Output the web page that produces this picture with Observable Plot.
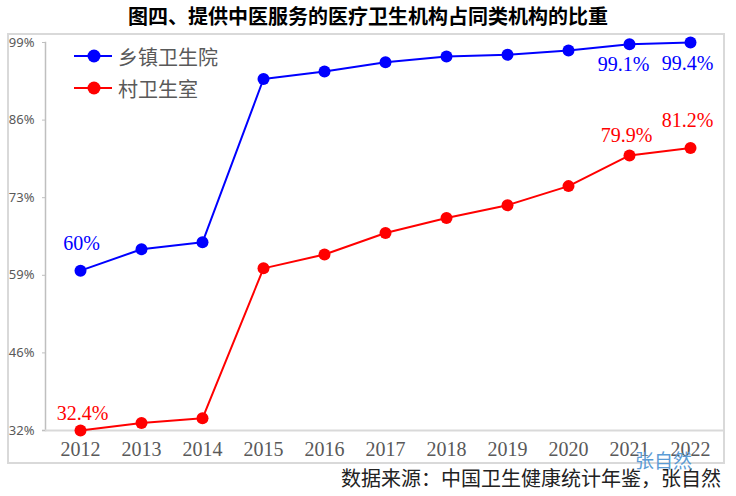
<!DOCTYPE html>
<html>
<head>
<meta charset="utf-8">
<script src="https://cdn.jsdelivr.net/npm/d3@7"></script>
<script src="https://cdn.jsdelivr.net/npm/@observablehq/plot@0.6"></script>
<style>
  html, body { margin: 0; padding: 0; background: #fff; }
  #wrap { position: relative; width: 736px; height: 496px; overflow: hidden; font-family: "Noto Sans CJK SC", "Noto Sans", sans-serif; }
  #title { position: absolute; left: 0; top: 0; width: 736px; height: 32px; line-height: 32px; text-align: center; font-size: 20px; font-weight: bold; color: #000; }
  #frame { position: absolute; left: 7px; top: 33px; width: 718px; height: 431px; border: 2px solid #d9d9d9; box-sizing: border-box; }
  #chart { position: absolute; left: 0; top: 32px; }
  #legend { position: absolute; left: 74px; top: 40px; font-size: 20px; color: #595959; }
  .li { display: flex; align-items: center; height: 32px; }
  .li svg { margin-right: 6px; }
  #caption { position: absolute; right: 15px; top: 465px; font-size: 20px; color: #222; line-height: 26px; }
  #wm { position: absolute; left: 635px; top: 448px; font-size: 19px; color: #5b9bd5; line-height: 24px; }
</style>
</head>
<body>
<div id="wrap">
  <div id="title">图四、提供中医服务的医疗卫生机构占同类机构的比重</div>
  <div id="frame"></div>
  <div id="chart"></div>
  <div id="legend"></div>
  <div id="caption">数据来源：中国卫生健康统计年鉴，张自然</div>
  <div id="wm">张自然</div>
</div>
<script>
const years = [2012, 2013, 2014, 2015, 2016, 2017, 2018, 2019, 2020, 2021, 2022];
const township = [60, 63.7, 64.9, 93.1, 94.4, 96.0, 97.0, 97.3, 98.0, 99.1, 99.4];
const village = [32.4, 33.7, 34.5, 60.4, 62.8, 66.5, 69.1, 71.3, 74.6, 79.9, 81.2];
const seriesNames = ["乡镇卫生院", "村卫生室"];
const seriesColors = ["#0000ff", "#ff0000"];
const yTickValues = [32.4, 45.8, 59.2, 72.6, 86.0, 99.4];
const yTickLabels = ["32%", "46%", "59%", "73%", "86%", "99%"];

const tData = years.map((y, i) => ({year: y, value: township[i]}));
const vData = years.map((y, i) => ({year: y, value: village[i]}));
const fmt = v => (Number.isInteger(v) ? v : v.toFixed(1)) + "%";
const labelFont = "'Liberation Serif', 'DejaVu Serif', serif";

function lab(data, yr, color, dx, dy) {
  return Plot.text(data.filter(d => d.year === yr), {
    x: "year", y: "value", text: d => fmt(d.value),
    fill: color, fontSize: 20, fontFamily: labelFont, dx, dy, lineAnchor: "middle"
  });
}

const plot = Plot.plot({
  width: 736,
  height: 434,
  marginTop: 10,
  marginBottom: 36,
  marginLeft: 45,
  marginRight: 11,
  style: {background: "transparent", overflow: "visible"},
  x: {type: "point", domain: years, padding: 0.5},
  y: {domain: [32.4, 99.4]},
  marks: [
    Plot.frame({anchor: "left", stroke: "#bfbfbf", strokeWidth: 1.5}),
    Plot.ruleY([32.4], {stroke: "#d9d9d9", strokeWidth: 2, insetLeft: -3}),
    Plot.axisY({ticks: yTickValues, tickFormat: (d, i) => yTickLabels[i], tickSize: 3, tickPadding: 8, stroke: "#bfbfbf", fill: "#595959", fontSize: 13, fontFamily: "'Noto Sans', sans-serif", label: null}),
    Plot.axisX({tickSize: 0, tickPadding: 11, fill: "#595959", fontSize: 20, fontFamily: labelFont, tickFormat: d => String(d), label: null}),
    Plot.line(tData, {x: "year", y: "value", stroke: seriesColors[0], strokeWidth: 2}),
    Plot.line(vData, {x: "year", y: "value", stroke: seriesColors[1], strokeWidth: 2}),
    Plot.dot(tData, {x: "year", y: "value", fill: seriesColors[0], r: 6}),
    Plot.dot(vData, {x: "year", y: "value", fill: seriesColors[1], r: 6}),
    lab(tData, 2012, seriesColors[0], 1, -27),
    lab(tData, 2021, seriesColors[0], -6, 20),
    lab(tData, 2022, seriesColors[0], -3, 21),
    lab(vData, 2012, seriesColors[1], 2, -17),
    lab(vData, 2021, seriesColors[1], -3, -20),
    lab(vData, 2022, seriesColors[1], -3, -27)
  ]
});
document.getElementById("chart").appendChild(plot);

const legend = document.getElementById("legend");
seriesNames.forEach((name, i) => {
  const row = document.createElement("div");
  row.className = "li";
  row.innerHTML = `<svg width="38" height="16"><line x1="0" y1="8" x2="38" y2="8" stroke="${seriesColors[i]}" stroke-width="2"/><circle cx="20" cy="8" r="6.5" fill="${seriesColors[i]}"/></svg><span>${name}</span>`;
  legend.appendChild(row);
});
</script>
</body>
</html>
